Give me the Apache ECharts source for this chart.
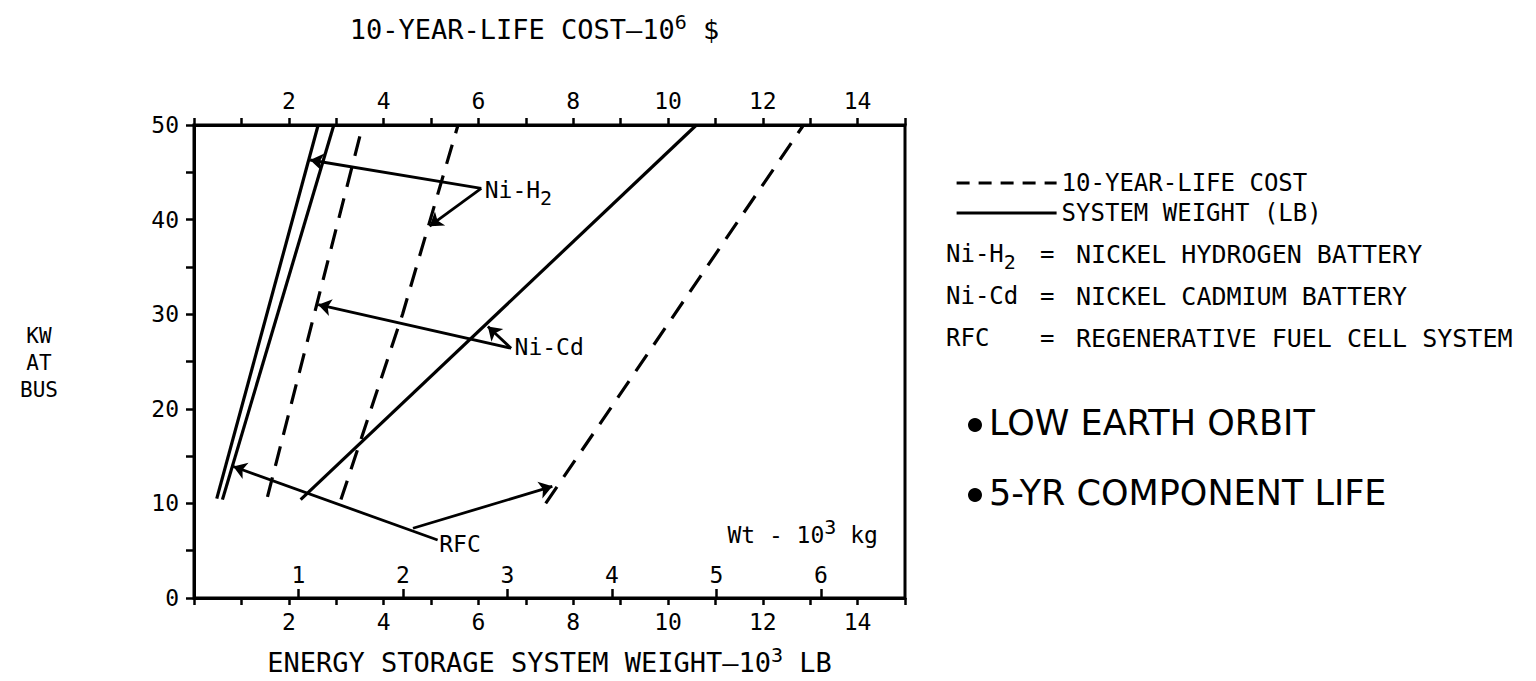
<!DOCTYPE html>
<html>
<head>
<meta charset="utf-8">
<script src="https://cdn.jsdelivr.net/npm/echarts@6/dist/echarts.min.js"></script>
<style>
  html, body { margin: 0; padding: 0; background: #fff; }
  #chart { width: 1536px; height: 681px; }
</style>
</head>
<body>
<div id="chart"></div>
<script>
// ---------- data ----------
// axes: x = energy storage weight (10^3 lb) == 10-year-life cost (10^6 $); y = KW at bus
const xTickLabels = [2, 4, 6, 8, 10, 12, 14];
const kgTickLabels = [1, 2, 3, 4, 5, 6];
const yTickLabels = [0, 10, 20, 30, 40, 50];
const LB_PER_KG = 2.20462;

// solid lines: system weight (10^3 lb) vs KW
const weightNiH2 = [[0.48, 10.5], [2.62, 50]];
const weightRFC  = [[0.60, 10.4], [2.95, 50]];
const weightNiCd = [[2.25, 10.4], [10.6, 50]];
// dashed lines: 10-year-life cost (10^6 $) vs KW
const costNiCd = [[1.55, 10.7], [3.56, 50]];
const costNiH2 = [[3.10, 10.4], [4.40, 30], [5.57, 50]];
const costRFC  = [[7.42, 10.0], [12.86, 50]];

// leader arrows (from label to curve)
const arrowsNiH2 = [[[6.06, 43.3], [2.45, 46.3]], [[6.06, 43.3], [4.97, 39.3]]];
const arrowsNiCd = [[[6.69, 26.4], [2.62, 31.0]], [[6.69, 26.4], [6.20, 28.7]]];
const arrowsRFC  = [[[5.14, 6.13], [0.83, 13.9]], [[4.62, 7.37], [7.56, 11.8]]];

// annotation texts anchored at data coordinates
const annotationTexts = ['Ni-H{sub|2}', 'Ni-Cd', 'RFC', 'Wt - 10{sup|3} kg'];
const annotationAnchors = [[6.08, 43.1], [6.71, 26.5], [5.12, 5.7], [11.2, 6.7]];

const legendNames = ['10-YEAR-LIFE COST', 'SYSTEM WEIGHT (LB)'];
const definitionTerms = ['Ni-H{sub|2}', 'Ni-Cd', 'RFC'];
const definitionTexts = ['NICKEL HYDROGEN BATTERY', 'NICKEL CADMIUM BATTERY', 'REGENERATIVE FUEL CELL SYSTEM'];
const notes = ['LOW EARTH ORBIT', '5-YR COMPONENT LIFE'];

// ---------- styling ----------
const MONO = "'DejaVu Sans Mono', 'Liberation Mono', monospace";
const SANS = "'DejaVu Sans', sans-serif";
const INK = '#000';
const LW = 3.2;
const DASH = [20, 12];

const chart = echarts.init(document.getElementById('chart'), null, { renderer: 'svg' });

const subRich = {
  sub: { fontFamily: MONO, fontSize: 20, color: INK, padding: [15, 0, 0, 0] },
  sup: { fontFamily: MONO, fontSize: 20, color: INK, padding: [0, 0, 15, 0] }
};

function lineSeries(name, data, dashed) {
  return {
    name: name, type: 'line', data: data, symbol: 'none', smooth: false,
    xAxisIndex: 0, yAxisIndex: 0, z: 3,
    itemStyle: { color: INK },
    lineStyle: { color: INK, width: LW, type: dashed ? DASH : 'solid' },
    emphasis: { disabled: true }, silent: true
  };
}
function arrowSeries(list) {
  return {
    type: 'lines', coordinateSystem: 'cartesian2d', xAxisIndex: 0, yAxisIndex: 0,
    symbol: ['none', 'arrow'], symbolSize: 13, z: 4, silent: true,
    lineStyle: { color: INK, width: 2.8, opacity: 1, curveness: 0 },
    data: list.map(c => ({ coords: c }))
  };
}

const showEven = v => (xTickLabels.indexOf(v) >= 0 ? String(v) : '');

const option = {
  animation: false,
  backgroundColor: '#fff',
  grid: { left: 194, top: 125, width: 711, height: 473, show: true,
          borderColor: INK, borderWidth: 3, backgroundColor: 'transparent' },
  legend: {
    data: [
      { name: legendNames[0], lineStyle: { type: [13, 9], width: LW, color: INK } },
      { name: legendNames[1], lineStyle: { type: 'solid', width: LW, color: INK } }
    ],
    orient: 'vertical', left: 950, top: 166,
    itemWidth: 100, itemHeight: 14, itemGap: 6, selectedMode: false,
    itemStyle: { opacity: 0 },
    textStyle: { fontFamily: MONO, fontSize: 24, color: INK }
  },
  xAxis: [
    { type: 'value', position: 'bottom', min: 0, max: 15, interval: 1,
      axisLine: { show: true, lineStyle: { color: INK, width: 3 } },
      axisTick: { show: true, length: 7, lineStyle: { color: INK, width: 2.5 } },
      axisLabel: { formatter: showEven, margin: 12, fontFamily: MONO, fontSize: 23, color: INK },
      splitLine: { show: false },
      name: 'ENERGY STORAGE SYSTEM WEIGHT—10{sup|3} LB', nameLocation: 'middle', nameGap: 47,
      nameTextStyle: { fontFamily: MONO, fontSize: 27, color: INK, rich: subRich } },
    { type: 'value', position: 'top', min: 0, max: 15, interval: 1,
      axisLine: { show: true, lineStyle: { color: INK, width: 3 } },
      axisTick: { show: true, length: 7, lineStyle: { color: INK, width: 2.5 } },
      axisLabel: { formatter: showEven, margin: 13, fontFamily: MONO, fontSize: 23, color: INK },
      splitLine: { show: false },
      name: '10-YEAR-LIFE COST—10{sup|6} $', nameLocation: 'middle', nameGap: 78,
      nameTextStyle: { fontFamily: MONO, fontSize: 27, color: INK, rich: subRich, padding: [0, 30, 0, 0] } },
    { type: 'value', position: 'bottom', min: 0, max: 15 / LB_PER_KG, interval: 1,
      axisLine: { show: false },
      axisTick: { show: true, inside: true, length: 9, lineStyle: { color: INK, width: 2.5 } },
      axisLabel: { inside: true, margin: 12, showMaxLabel: false, fontFamily: MONO, fontSize: 23, color: INK,
                   formatter: v => (kgTickLabels.indexOf(v) >= 0 ? String(v) : '') },
      splitLine: { show: false } }
  ],
  yAxis: [
    { type: 'value', min: 0, max: 50, interval: 5,
      axisLine: { show: true, lineStyle: { color: INK, width: 3 } },
      axisTick: { show: true, length: 8, lineStyle: { color: INK, width: 2.5 } },
      axisLabel: { margin: 15, fontFamily: MONO, fontSize: 23, color: INK,
                   formatter: v => (yTickLabels.indexOf(v) >= 0 ? String(v) : '') },
      splitLine: { show: false } }
  ],
  series: [
    lineSeries(legendNames[0], costNiCd, true),
    lineSeries(legendNames[0], costNiH2, true),
    lineSeries(legendNames[0], costRFC, true),
    lineSeries(legendNames[1], weightNiH2, false),
    lineSeries(legendNames[1], weightRFC, false),
    lineSeries(legendNames[1], weightNiCd, false),
    arrowSeries(arrowsNiH2),
    arrowSeries(arrowsNiCd),
    arrowSeries(arrowsRFC),
    {
      type: 'scatter', xAxisIndex: 0, yAxisIndex: 0, symbolSize: 1, z: 5, silent: true,
      itemStyle: { color: 'rgba(0,0,0,0)' },
      label: { show: true, position: 'right', distance: 2, color: INK, opacity: 1,
               textBorderWidth: 0, fontFamily: MONO, fontSize: 23, rich: subRich },
      data: annotationAnchors.map((p, i) => ({
        value: p,
        label: { formatter: annotationTexts[i] }
      }))
    }
  ],
  graphic: [
    { type: 'text', x: 39, y: 322, silent: true,
      style: { text: 'KW\nAT\nBUS', fontFamily: MONO, fontSize: 21, lineHeight: 27,
               fill: INK, align: 'center', verticalAlign: 'top' } }
  ]
    .concat(definitionTerms.map((t, i) => ({
      type: 'text', left: 946, top: 242 + i * 42, silent: true,
      style: { text: t, fontFamily: MONO, fontSize: 24, fill: INK, rich: subRich }
    })))
    .concat(definitionTerms.map((t, i) => ({
      type: 'text', left: 1040, top: 242 + i * 42, silent: true,
      style: { text: '=', fontFamily: MONO, fontSize: 24, fill: INK }
    })))
    .concat(definitionTexts.map((t, i) => ({
      type: 'text', left: 1076, top: 242 + i * 42, silent: true,
      style: { text: t, fontFamily: MONO, fontSize: 25, fill: INK }
    })))
    .concat(notes.map((t, i) => ({
      type: 'group', left: 968, top: 405 + i * 70, silent: true,
      children: [
        { type: 'circle', shape: { cx: 8, cy: 20, r: 7 }, style: { fill: INK } },
        { type: 'text', x: 22, y: 0, style: { text: t, fontFamily: SANS, fontSize: 35, fill: INK } }
      ]
    })))
};

chart.setOption(option);
</script>
</body>
</html>
